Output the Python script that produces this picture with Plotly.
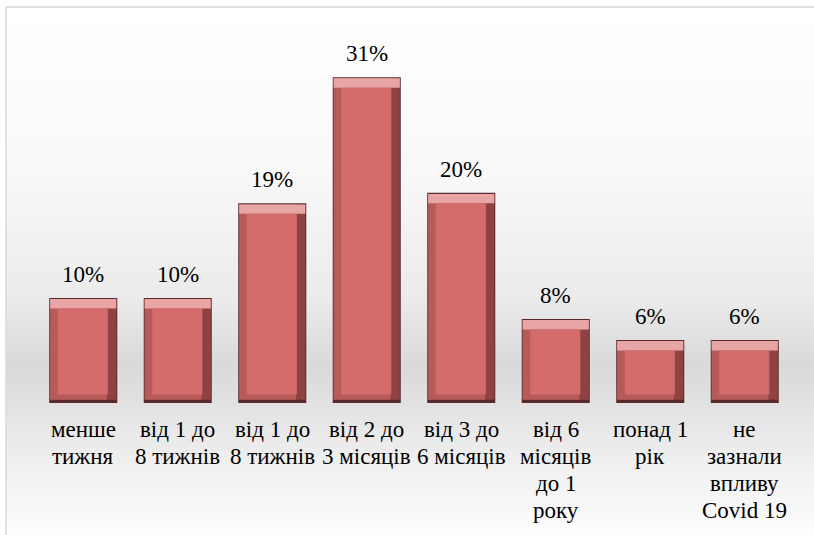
import base64
import plotly.graph_objects as go

# ---- data ----
categories = [
    "менше<br>тижня",
    "від 1 до<br>8 тижнів",
    "від 1 до<br>8 тижнів",
    "від 2 до<br>3 місяців",
    "від 3 до<br>6 місяців",
    "від 6<br>місяців<br>до 1<br>року",
    "понад 1<br>рік",
    "не<br>зазнали<br>впливу<br>Covid 19",
]
values = [10, 10, 19, 31, 20, 8, 6, 6]
labels = ["10%", "10%", "19%", "31%", "20%", "8%", "6%", "6%"]
xpos = list(range(len(values)))

FONT = "Liberation Serif"

fig = go.Figure()

def bar(y, base, width, offset, color):
    fig.add_trace(go.Bar(x=xpos, y=y, base=base, width=width, offset=offset,
                         marker=dict(color=color, line=dict(width=0)),
                         hoverinfo="skip"))

# outer dark edge
bar(values, 0, 0.72, -0.36, "#5a2a2a")
# right bevel (dark)
bar([v - 0.4 for v in values], 0.3, 0.70, -0.35, "#8e4242")
# left bevel (mid)
bar([v - 0.4 for v in values], 0.3, 0.60, -0.35, "#b65a5a")
# top bevel (light)
bar([0.9 for v in values], [v - 1.0 for v in values], 0.70, -0.35, "#e7a5a5")
# face
bar([v - 1.8 for v in values], 0.8, 0.53, -0.27, "#d46c6c")

for x, v, t in zip(xpos, values, labels):
    fig.add_annotation(x=x, y=v, text=t, showarrow=False, yanchor="bottom",
                       yshift=9, font=dict(family=FONT, size=23, color="#000000"))

# category labels, one annotation per line (27px line spacing)
for x, c in zip(xpos, categories):
    for i, line in enumerate(c.split("<br>")):
        fig.add_annotation(x=x, xref="x", y=0, yref="paper", text=line,
                           showarrow=False, yanchor="middle", xanchor="center",
                           yshift=-(26 + 27 * i),
                           font=dict(family=FONT, size=23, color="#000000"))

# background gradient
svg = ('<svg xmlns="http://www.w3.org/2000/svg" width="100" height="100" preserveAspectRatio="none">'
       '<defs><linearGradient id="g" x1="0" y1="0" x2="0" y2="1">'
       '<stop offset="0" stop-color="#ffffff"/>'
       '<stop offset="0.3" stop-color="#f9f9f9"/>'
       '<stop offset="0.55" stop-color="#ebebeb"/>'
       '<stop offset="0.68" stop-color="#d9d9d9"/>'
       '<stop offset="0.85" stop-color="#eeeeee"/>'
       '<stop offset="1" stop-color="#fdfdfd"/>'
       '</linearGradient></defs>'
       '<rect width="100" height="100" fill="url(#g)"/></svg>')
src = "data:image/svg+xml;base64," + base64.b64encode(svg.encode()).decode()

L, R, T, B = 36, 22, 10, 132
W, H = 814, 535
pw, ph = W - L - R, H - T - B
px0 = (6 - L) / pw
py0 = (H - B - 7) / ph

fig.add_layout_image(dict(source=src, xref="paper", yref="paper",
                          x=px0, y=py0, sizex=(W - 6) / pw, sizey=(H - 7) / ph,
                          xanchor="left", yanchor="top", sizing="stretch",
                          layer="below"))
fig.add_shape(type="rect", xref="paper", yref="paper",
              x0=px0, y0=-0.6, x1=1.3, y1=py0,
              line=dict(color="#d9d9d9", width=1.5), fillcolor="rgba(0,0,0,0)")

fig.update_layout(
    width=W, height=H,
    margin=dict(l=L, r=R, t=T, b=B),
    barmode="overlay",
    showlegend=False,
    paper_bgcolor="#ffffff",
    plot_bgcolor="rgba(0,0,0,0)",
    xaxis=dict(range=[-0.5, 7.5], tickvals=xpos, showticklabels=False,
               showgrid=False, zeroline=False, showline=False, ticks=""),
    yaxis=dict(range=[0, 37.4], visible=False, showgrid=False, zeroline=False),
)

fig.write_html("out.html", config={"displayModeBar": False},
               post_script="document.body.style.margin='0';document.body.style.overflow='hidden';")
